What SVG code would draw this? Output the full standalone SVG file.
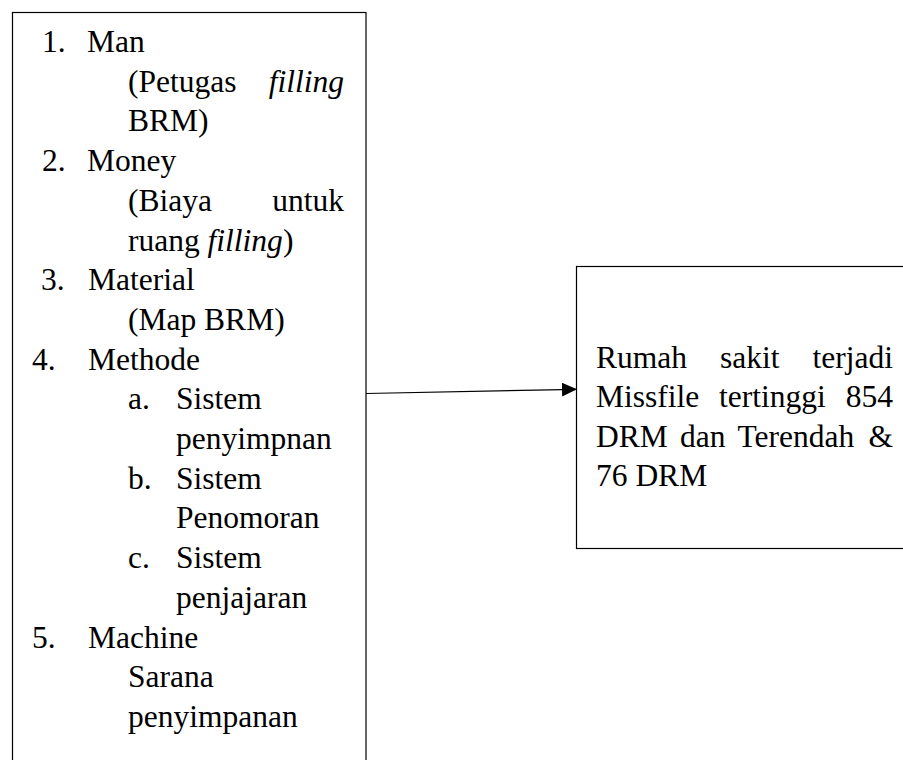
<svg xmlns="http://www.w3.org/2000/svg" width="903" height="760" viewBox="0 0 903 760">
  <style>
    .box { fill: #ffffff; stroke: #000000; stroke-width: 1.2; }
    .t { font-family: "Liberation Serif", "Times New Roman", serif; font-size: 31.5px; fill: #000000; }
    .i { font-style: italic; }
    .e { text-anchor: end; }
    .conn { fill: none; stroke: #000000; stroke-width: 1.2; }
  </style>
  <defs>
    <marker id="arrow" viewBox="0 0 15 14" refX="15" refY="7" markerWidth="15" markerHeight="14" markerUnits="userSpaceOnUse" orient="auto">
      <polygon points="0,0 15,7 0,14" fill="#000000"/>
    </marker>
  </defs>
  <rect width="903" height="760" fill="#ffffff"/>

  <g id="node-causes">
    <rect class="box" x="12.5" y="12.5" width="353.5" height="800"/>
    <text class="t" x="42" y="52">1.</text>
    <text class="t" x="87" y="52">Man</text>
    <text class="t" x="128" y="91.7">(Petugas</text>
    <text class="t i e" x="344" y="91.7">filling</text>
    <text class="t" x="128" y="131.4">BRM)</text>
    <text class="t" x="42" y="171.1">2.</text>
    <text class="t" x="87" y="171.1">Money</text>
    <text class="t" x="128" y="210.8">(Biaya</text>
    <text class="t e" x="344" y="210.8">untuk</text>
    <text class="t" x="128" y="250.5">ruang <tspan class="i">filling</tspan>)</text>
    <text class="t" x="41" y="290.2">3.</text>
    <text class="t" x="88" y="290.2">Material</text>
    <text class="t" x="128" y="329.9">(Map BRM)</text>
    <text class="t" x="32" y="369.6">4.</text>
    <text class="t" x="88" y="369.6">Methode</text>
    <text class="t" x="128" y="409.3">a.</text>
    <text class="t" x="176" y="409.3">Sistem</text>
    <text class="t" x="176" y="449">penyimpnan</text>
    <text class="t" x="128" y="488.7">b.</text>
    <text class="t" x="176" y="488.7">Sistem</text>
    <text class="t" x="176" y="528.4">Penomoran</text>
    <text class="t" x="128" y="568.1">c.</text>
    <text class="t" x="176" y="568.1">Sistem</text>
    <text class="t" x="176" y="607.8">penjajaran</text>
    <text class="t" x="32" y="647.5">5.</text>
    <text class="t" x="88" y="647.5">Machine</text>
    <text class="t" x="128" y="687.2">Sarana</text>
    <text class="t" x="128" y="726.9">penyimpanan</text>
  </g>

  <g id="node-effect">
    <rect class="box" x="576.5" y="266.5" width="400" height="282"/>
    <text class="t" x="596" y="368">Rumah</text>
    <text class="t" x="720" y="368">sakit</text>
    <text class="t e" x="893" y="368">terjadi</text>
    <text class="t" x="596" y="407.3">Missfile</text>
    <text class="t" x="719" y="407.3">tertinggi</text>
    <text class="t e" x="893" y="407.3">854</text>
    <text class="t" x="596" y="446.6">DRM</text>
    <text class="t" x="680" y="446.6">dan</text>
    <text class="t" x="737.5" y="446.6">Terendah</text>
    <text class="t e" x="893" y="446.6">&amp;</text>
    <text class="t" x="596" y="485.9">76 DRM</text>
  </g>

  <g id="connectors">
    <path class="conn" d="M366,393.5 L577,389.3" marker-end="url(#arrow)"/>
  </g>
</svg>
